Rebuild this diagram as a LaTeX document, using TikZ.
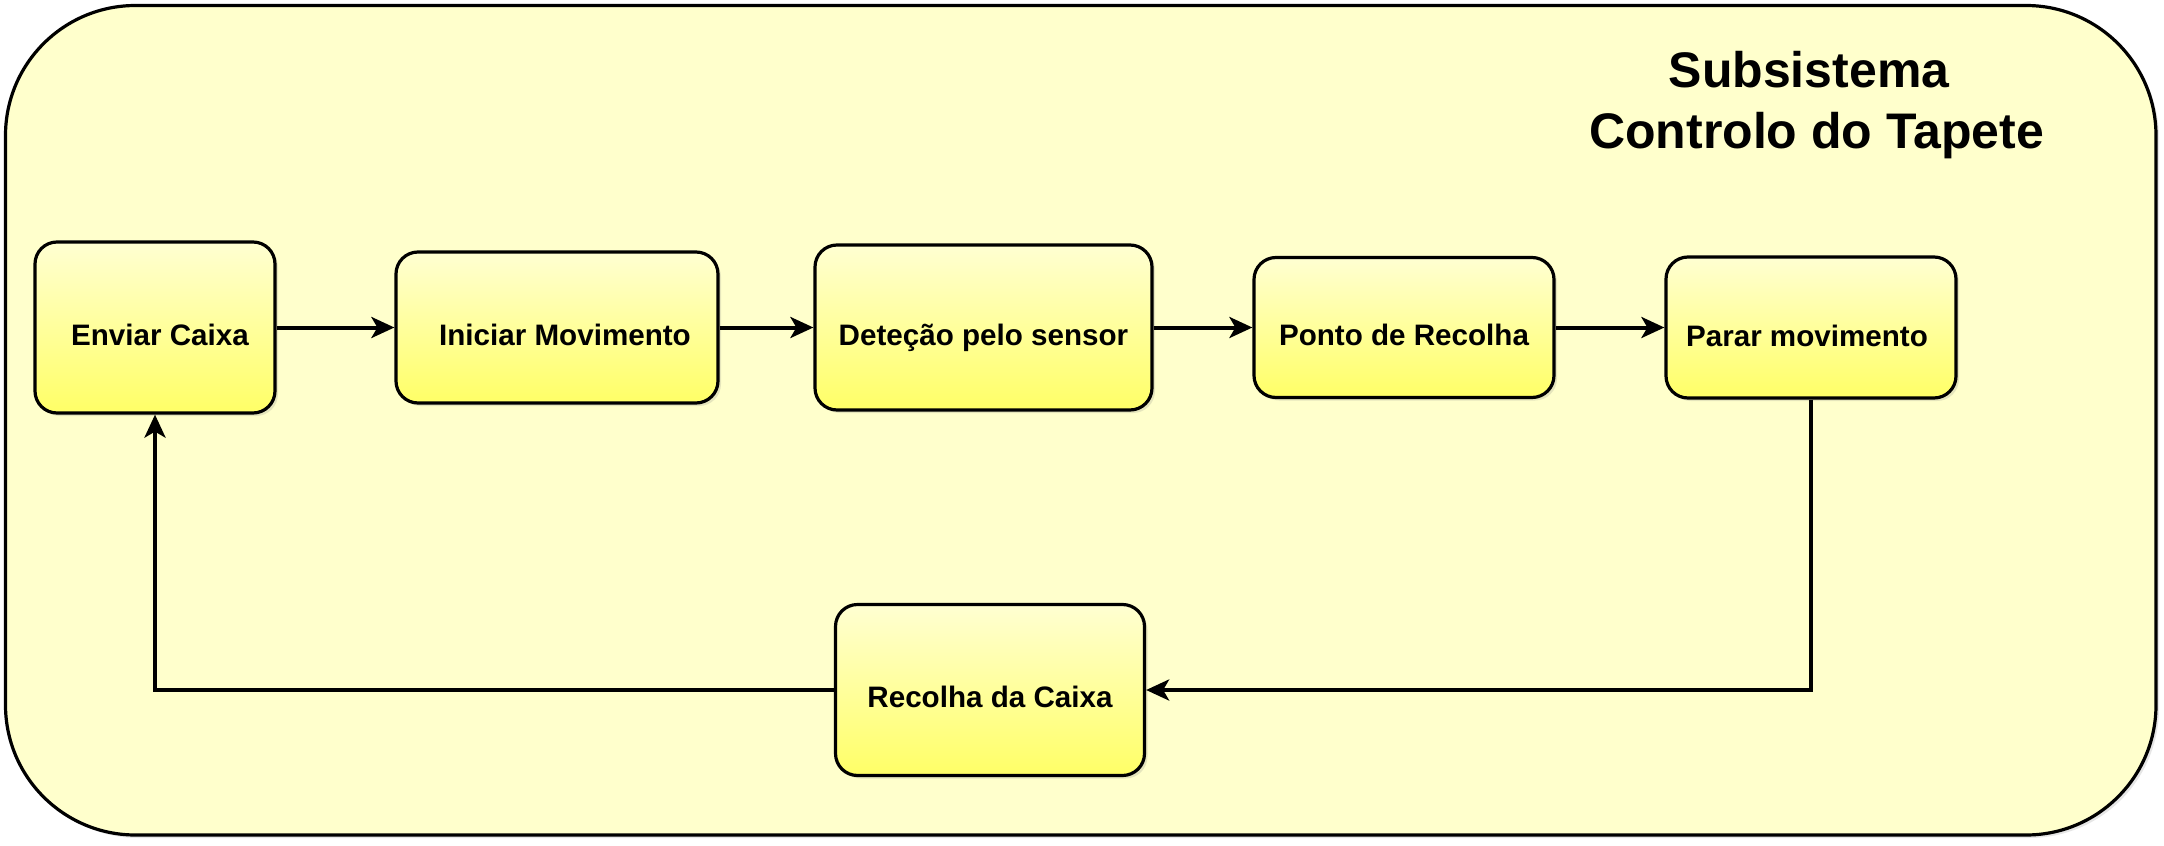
\documentclass[tikz,border=0pt]{standalone}
\usepackage{fontspec}
\setmainfont{Liberation Sans}
\usetikzlibrary{arrows.meta,shadows}
\definecolor{bgyel}{HTML}{FFFFCC}
\definecolor{topyel}{HTML}{FFFFD2}
\definecolor{botyel}{HTML}{FFFF66}
\begin{document}
\begin{tikzpicture}[x=0.5pt,y=-0.5pt,
  outerbox/.style={draw=black, line width=1.6pt, rounded corners=65pt, fill=bgyel, inner sep=0pt,
    drop shadow={shadow xshift=1.5pt,shadow yshift=-1.5pt,opacity=0.2}},
  stepbox/.style={draw=black, line width=1.6pt, rounded corners=11pt, top color=topyel, bottom color=botyel, inner sep=0pt,
    drop shadow={shadow xshift=1.5pt,shadow yshift=-1.5pt,opacity=0.2}},
  lbl/.style={font=\fontsize{14.8}{17}\selectfont\bfseries, anchor=base, inner sep=0pt},
  ttl/.style={font=\fontsize{25}{30}\selectfont\bfseries, anchor=base, inner sep=0pt},
  conn/.style={line width=2pt, -{Stealth[length=11.5pt,width=10.5pt,inset=3pt]}}]
\useasboundingbox (0,0) rectangle (2164,846);
\node[outerbox, minimum width=1075.25pt, minimum height=414.75pt] (outer) at (1080.75,420.25) {};
\node[ttl] (title1) at (1809,87) {Subsistema};
\node[ttl] (title2) at (1816.5,148) {Controlo do Tapete};

\node[stepbox, minimum width=120pt, minimum height=85.5pt] (b1) at (155,327.5) {};
\node[stepbox, minimum width=161pt, minimum height=75.5pt] (b2) at (557,327.5) {};
\node[stepbox, minimum width=168.5pt, minimum height=82.5pt] (b3) at (983.5,327.5) {};
\node[stepbox, minimum width=150pt, minimum height=70pt] (b4) at (1404,327.5) {};
\node[stepbox, minimum width=145pt, minimum height=70.5pt] (b5) at (1811,327.5) {};
\node[stepbox, minimum width=154.5pt, minimum height=85.5pt] (b6) at (990,690) {};

\node[lbl] (t1) at ([xshift=2.5pt,yshift=-8.75pt]b1.center) {Enviar Caixa};
\node[lbl] (t2) at ([xshift=4pt,yshift=-8.75pt]b2.center) {Iniciar Movimento};
\node[lbl] (t3) at ([yshift=-8.75pt]b3.center) {Deteção pelo sensor};
\node[lbl] (t4) at ([yshift=-8.75pt]b4.center) {Ponto de Recolha};
\node[lbl] (t5) at ([xshift=-2pt,yshift=-9.5pt]b5.center) {Parar movimento};
\node[lbl] (t6) at ([yshift=-8.5pt]b6.center) {Recolha da Caixa};

\draw[conn] (b1.east) -- (b2.west);
\draw[conn] (b2.east) -- (b3.west);
\draw[conn] (b3.east) -- (b4.west);
\draw[conn] (b4.east) -- (b5.west);
\draw[conn] (b5.south) |- (b6.east);
\draw[conn] (b6.west) -| (b1.south);
\end{tikzpicture}
\end{document}
